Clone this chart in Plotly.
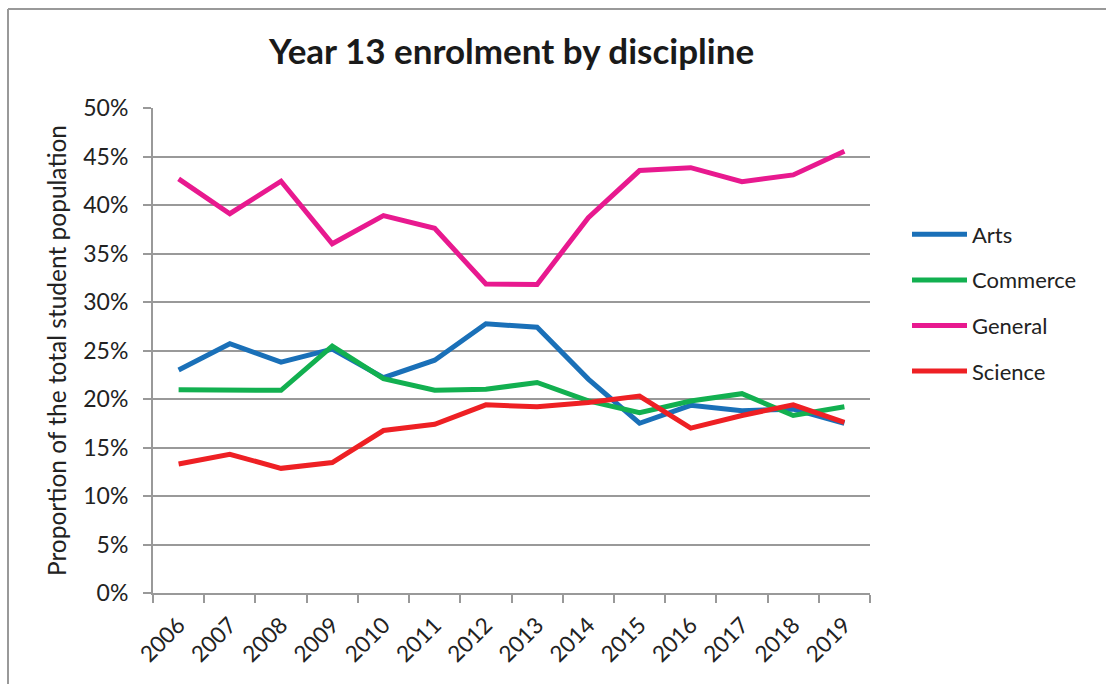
import plotly.graph_objects as go

years = ["2006", "2007", "2008", "2009", "2010", "2011", "2012",
         "2013", "2014", "2015", "2016", "2017", "2018", "2019"]
arts = [23.0, 25.7, 23.8, 25.15, 22.2, 24.0, 27.75, 27.4, 22.05, 17.5, 19.35, 18.8, 18.95, 17.5]
commerce = [20.95, 20.9, 20.9, 25.45, 22.1, 20.9, 21.0, 21.7, 19.8, 18.6, 19.8, 20.55, 18.3, 19.2]
general = [42.7, 39.1, 42.45, 36.0, 38.9, 37.6, 31.85, 31.8, 38.7, 43.55, 43.85, 42.4, 43.1, 45.55]
science = [13.3, 14.3, 12.85, 13.45, 16.75, 17.4, 19.4, 19.2, 19.65, 20.3, 17.0, 18.3, 19.4, 17.6]

series = [("Arts", arts, "#1a70b8"), ("Commerce", commerce, "#12b050"),
          ("General", general, "#e8198f"), ("Science", science, "#ee2024")]

yticks = [0, 5, 10, 15, 20, 25, 30, 35, 40, 45, 50]
yticklabels = [f"{v}%" for v in yticks]

FONT = "Lato"
TXT = "#222222"
fig = go.Figure()
for name, vals, col in series:
    fig.add_trace(go.Scatter(x=years, y=vals, name=name, mode="lines", legendgroup=name,
                             line=dict(color=col, width=5)))

fig.update_layout(
    width=1106, height=684,
    margin=dict(l=153, r=236, t=108, b=91),
    paper_bgcolor="white", plot_bgcolor="white",
    font=dict(family=FONT, size=22, color=TXT),
    title=dict(text="<b>Year 13 enrolment by discipline</b>", x=0.5, xanchor="center",
               xref="paper", y=1 - 52 / 684, yanchor="middle",
               font=dict(family=FONT, size=35, color="#1a1a1a")),
    showlegend=True,
    legend=dict(x=(907 - 153) / 717, xanchor="left", y=(593 - 303) / 485, yanchor="middle",
                font=dict(family=FONT, size=22, color=TXT),
                tracegroupgap=14, itemwidth=55, bgcolor="rgba(0,0,0,0)",
                traceorder="grouped"),
    xaxis=dict(type="category", tickson="boundaries", ticks="outside", ticklen=8,
               tickcolor="#999999", tickwidth=2, showgrid=False,
               showline=True, linecolor="#999999", linewidth=2,
               tickangle=-45, tickfont=dict(family=FONT, size=22.5, color=TXT),
               ticklabelstandoff=8,
               range=[-0.5, 13.5]),
    yaxis=dict(range=[0, 50], tickvals=yticks, ticktext=yticklabels,
               ticks="outside", ticklen=8, tickcolor="#999999", tickwidth=2,
               showgrid=True, gridcolor="#999999", gridwidth=2,
               showline=True, linecolor="#999999", linewidth=2,
               zeroline=False, ticklabelstandoff=10,
               tickfont=dict(family=FONT, size=23, color=TXT),
               title=dict(text="Proportion of the total student population",
                          font=dict(family=FONT, size=24.5, color=TXT), standoff=10)),
)

# outer chart border (top and left edges visible)
fig.add_shape(type="line", xref="paper", yref="paper",
              x0=(8 - 153) / 717, x1=(1110 - 153) / 717,
              y0=(593 - 9) / 485, y1=(593 - 9) / 485,
              line=dict(color="#999999", width=2))
fig.add_shape(type="line", xref="paper", yref="paper",
              x0=(8 - 153) / 717, x1=(8 - 153) / 717,
              y0=(593 - 9) / 485, y1=(593 - 690) / 485,
              line=dict(color="#999999", width=2))

fig.write_html("out.html")
